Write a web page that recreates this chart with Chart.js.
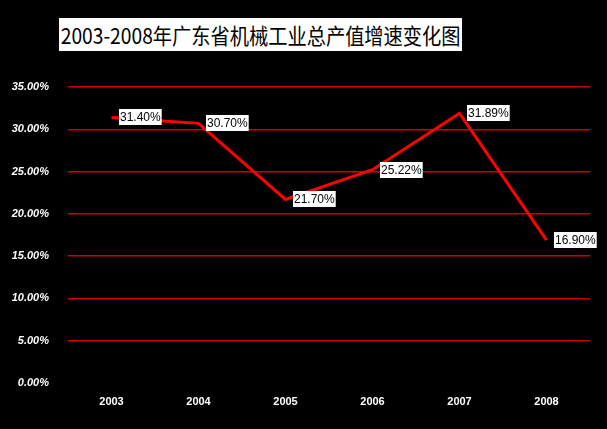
<!DOCTYPE html>
<html>
<head>
<meta charset="utf-8">
<script src="https://cdn.jsdelivr.net/npm/chart.js@4"></script>
<style>
  html, body { margin: 0; padding: 0; background: #000; }
  #wrap { position: relative; width: 607px; height: 429px; }
  #title {
    position: absolute; left: 59px; top: 18px; height: 33px; line-height: 33px;
    background: #fff; color: #000; padding: 0 2px; transform-origin: left top;
    font-family: "Noto Sans CJK SC", sans-serif; font-size: 22px; white-space: nowrap;
  }
</style>
</head>
<body>
<div id="wrap">
  <canvas id="growthChart" width="607" height="429"></canvas>
  <div id="title">2003-2008年广东省机械工业总产值增速变化图</div>
</div>
<script>
// data
var years = ['2003', '2004', '2005', '2006', '2007', '2008'];
var growth = [31.40, 30.70, 21.70, 25.22, 31.89, 16.90];
var yTicks = [0, 5, 10, 15, 20, 25, 30, 35];

// squeeze title box to the width of the original
var title = document.getElementById('title');
title.style.transform = 'scaleX(' + (403 / title.offsetWidth) + ')';

// white box labels next to each point
var pointLabels = {
    id: 'pointLabels',
    afterDatasetsDraw: function (chart) {
        var ctx = chart.ctx;
        var meta = chart.getDatasetMeta(0);
        ctx.save();
        ctx.font = '12px "Liberation Sans", Arial, sans-serif';
        ctx.textBaseline = 'middle';
        meta.data.forEach(function (pt, i) {
            var txt = growth[i].toFixed(2) + '%';
            var w = ctx.measureText(txt).width + 2;
            var x = Math.round(pt.x + 7), y = Math.round(pt.y);
            ctx.fillStyle = '#fff';
            ctx.fillRect(x, y - 8, w, 16);
            ctx.fillStyle = '#000';
            ctx.fillText(txt, x + 1, y + 1);
        });
        ctx.restore();
    }
};

var ctx = document.getElementById('growthChart');
var growthChart = new Chart(ctx, {
    type: 'line',
    data: {
        labels: years,
        datasets: [{
            data: growth,
            borderColor: '#ff0000',
            borderWidth: 3,
            pointRadius: 0,
            tension: 0
        }]
    },
    options: {
        responsive: false,
        animation: false,
        layout: { padding: { top: 87, left: 0, right: 17, bottom: 0 } },
        plugins: {
            legend: { display: false },
            tooltip: { enabled: false }
        },
        scales: {
            x: {
                offset: true,
                grid: { display: false, drawTicks: false },
                border: { display: false },
                afterFit: function (axis) { axis.height = 46; },
                ticks: {
                    color: '#fff',
                    padding: 12,
                    font: { family: 'Liberation Sans', size: 11, weight: 'bold' }
                }
            },
            y: {
                min: 0,
                max: 35,
                afterBuildTicks: function (axis) {
                    axis.ticks = yTicks.map(function (v) { return { value: v }; });
                },
                afterFit: function (axis) { axis.width = 68; },
                grid: {
                    drawTicks: false,
                    lineWidth: 1.5,
                    color: function (c) { return c.tick && c.tick.value === 0 ? 'rgba(0,0,0,0)' : '#d00000'; }
                },
                border: { display: false },
                ticks: {
                    color: '#fff',
                    padding: 19,
                    font: { family: 'Liberation Sans', size: 11, weight: 'bold', style: 'italic' },
                    callback: function (v) { return v.toFixed(2) + '%'; }
                }
            }
        }
    },
    plugins: [pointLabels]
});
</script>
</body>
</html>
